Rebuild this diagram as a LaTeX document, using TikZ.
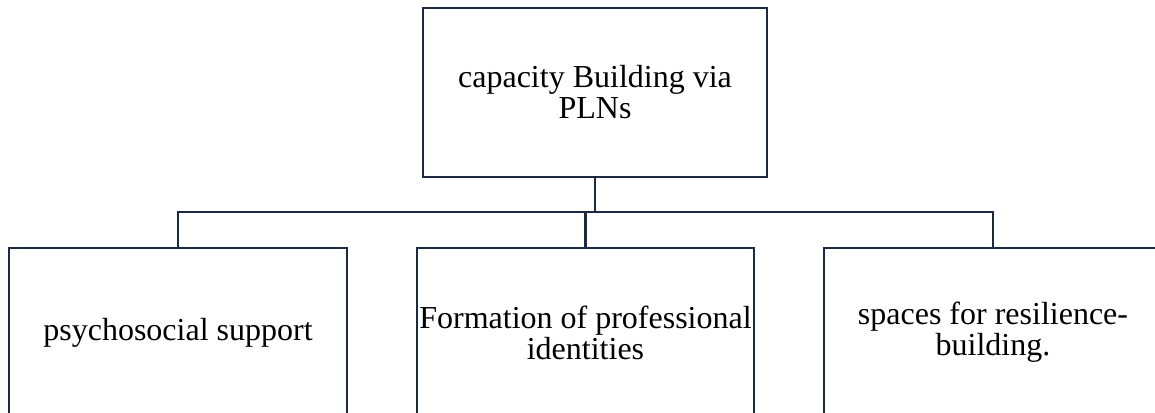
\documentclass[tikz,border=0pt]{standalone}
\usepackage{fontspec}
\setmainfont{Liberation Serif}
\definecolor{navy}{HTML}{1B2A41}
\begin{document}
\begin{tikzpicture}[x=1pt,y=-1pt,
  box/.style={draw=navy,line width=2.8pt,rectangle,inner sep=0pt,
    minimum width=#1,minimum height=169pt,align=center,
    font=\fontsize{32}{31}\selectfont},
  link/.style={draw=navy,line width=2.8pt}]
\useasboundingbox (0,0) rectangle (1155,412);
\clip (0,0) rectangle (1155,412);
\node[box=344pt] (top) at (595,92.5) {capacity Building via\\PLNs};
\node[box=338pt] (left) at (178,332.5) {psychosocial support};
\node[box=337pt] (mid) at (585.5,332.5) {Formation of professional\\identities};
\node[box=338pt] (right) at (993,332.5) {spaces for resilience-\\building.};
\coordinate (bus) at (595,212);
\draw[link] (top.south) -- (bus);
\draw[link] (left.north) |- (bus) -| (right.north);
\draw[link] (mid.north) -- (mid.north |- bus);
\end{tikzpicture}
\end{document}
